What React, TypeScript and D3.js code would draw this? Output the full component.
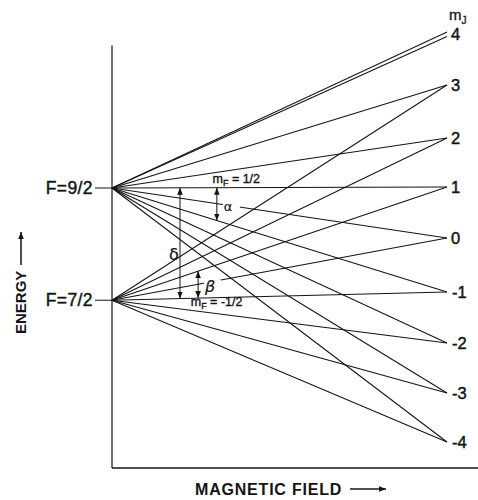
import React, { useEffect, useRef } from "react";
import * as d3 from "d3";

// zero-field hyperfine levels (energy, arbitrary units)
const zeroFieldLabels = ["F=9/2", "F=7/2"];
const zeroFieldEnergy = [0.98, -1.22];

// high-field m_J levels
const mJLabels = ["4", "3", "2", "1", "0", "-1", "-2", "-3", "-4"];
const mJEnergy = [4, 3, 1.96, 1, 0, -1.06, -2.06, -3.04, -4];

// F=9/2 sublevels and the energy each one reaches at the right edge
const upperMF = ["9/2", "7/2", "5/2", "3/2", "1/2", "-1/2", "-3/2", "-5/2", "-7/2", "-9/2"];
const upperEnd = [4.04, 3.95, 3, 1.96, 1, 0, -1.06, -2.06, -3.04, -4];

// F=7/2 sublevels
const lowerMF = ["7/2", "5/2", "3/2", "1/2", "-1/2", "-3/2", "-5/2", "-7/2"];
const lowerEnd = [3, 1.96, 1, 0, -1.06, -2.06, -3.04, -4];

// marked transitions: [label, field, from (F, mF), to (F, mF)]
const transitionLabels = ["α", "δ", "β"];
const transitionField = [0.313, 0.203, 0.257];
const transitionFrom = [[0, "1/2"], [0, "1/2"], [1, "-1/2"]];
const transitionTo = [[0, "-3/2"], [1, "-1/2"], [1, "3/2"]];

const BreitRabi = () => {
  const svgRef = useRef(null);

  useEffect(() => {
    const svg = d3.select(svgRef.current);
    svg.selectAll("*").remove();

    const x = d3.scaleLinear().domain([0, 1]).range([112, 447]);
    const y = d3.scaleLinear().domain([-4, 4]).range([442, 34]);
    const ink = "#141414";
    const font = "'Liberation Sans', Arial, sans-serif";

    const levels = [
      ...upperMF.map((mF, i) => ({ F: 0, mF, e0: zeroFieldEnergy[0], e1: upperEnd[i] })),
      ...lowerMF.map((mF, i) => ({ F: 1, mF, e0: zeroFieldEnergy[1], e1: lowerEnd[i] })),
    ];
    const energyAt = (F, mF, b) => {
      const l = levels.find((d) => d.F === F && d.mF === mF);
      return l.e0 + (l.e1 - l.e0) * b;
    };

    svg
      .append("defs")
      .append("marker")
      .attr("id", "head")
      .attr("viewBox", "0 0 10 10")
      .attr("refX", 10)
      .attr("refY", 5)
      .attr("markerWidth", 7)
      .attr("markerHeight", 7)
      .attr("markerUnits", "userSpaceOnUse")
      .attr("orient", "auto-start-reverse")
      .append("path")
      .attr("d", "M0,1 L10,5 L0,9 Z")
      .attr("fill", ink);

    // axes
    svg
      .append("line")
      .attr("x1", x(0))
      .attr("x2", x(0))
      .attr("y1", y(3.78))
      .attr("y2", y(-4.51))
      .attr("stroke", ink)
      .attr("stroke-width", 1.2);
    svg
      .append("line")
      .attr("x1", x(0))
      .attr("x2", x(1.1))
      .attr("y1", y(-4.51))
      .attr("y2", y(-4.51))
      .attr("stroke", ink)
      .attr("stroke-width", 1.4);

    // energy levels
    svg
      .append("g")
      .selectAll("line")
      .data(levels)
      .enter()
      .append("line")
      .attr("x1", x(0))
      .attr("y1", (d) => y(d.e0))
      .attr("x2", x(1))
      .attr("y2", (d) => y(d.e1))
      .attr("stroke", ink)
      .attr("stroke-width", 1.05);

    // a little extra weight on the lettering, like the inked original
    const heavy = (sel, w = 0.45) =>
      sel.attr("stroke", ink).attr("stroke-width", w).attr("fill", ink);

    // zero-field labels
    zeroFieldLabels.forEach((label, i) => {
      svg
        .append("line")
        .attr("x1", x(0) - 17)
        .attr("x2", x(0))
        .attr("y1", y(zeroFieldEnergy[i]))
        .attr("y2", y(zeroFieldEnergy[i]))
        .attr("stroke", ink);
      heavy(
        svg
          .append("text")
          .attr("x", x(0) - 19)
          .attr("y", y(zeroFieldEnergy[i]) + 6)
          .attr("text-anchor", "end")
          .attr("font-size", 17.5)
          .attr("font-family", font)
          .attr("letter-spacing", 0.4)
          .text(label)
      );
    });

    // high-field labels
    heavy(
      svg
        .append("g")
        .selectAll("text")
        .data(mJLabels)
        .enter()
        .append("text")
        .attr("x", (d) => x(1) + (d.startsWith("-") ? 5 : 4))
        .attr("y", (d, i) => y(mJEnergy[i]) + 6)
        .attr("font-size", 16.5)
        .attr("font-family", font)
        .text((d) => d)
    );

    const mJ = heavy(
      svg
        .append("text")
        .attr("x", x(1) + 2)
        .attr("y", 20)
        .attr("font-size", 15)
        .attr("font-family", font),
      0.35
    );
    mJ.append("tspan").text("m");
    mJ.append("tspan").attr("dy", 4).attr("font-size", 10).text("J");

    // m_F labels on the two horizontal-ish levels
    const mFLabel = (tx, ty, value) => {
      const t = heavy(
        svg
          .append("text")
          .attr("x", tx)
          .attr("y", ty)
          .attr("font-size", 12.5)
          .attr("font-family", font),
        0.35
      );
      t.append("tspan").text("m");
      t.append("tspan").attr("dy", 3).attr("font-size", 9).text("F");
      t.append("tspan").attr("dy", -3).text(` = ${value}`);
    };
    mFLabel(x(0.3), y(energyAt(0, "1/2", 0.3)) - 5, "1/2");
    mFLabel(x(0.235), y(energyAt(1, "-1/2", 0.235)) + 8, "-1/2");

    // transition arrows
    transitionLabels.forEach((label, i) => {
      const b = transitionField[i];
      const [fF, fm] = transitionFrom[i];
      const [tF, tm] = transitionTo[i];
      const ya = y(energyAt(fF, fm, b));
      const yb = y(energyAt(tF, tm, b));
      svg
        .append("line")
        .attr("x1", x(b))
        .attr("x2", x(b))
        .attr("y1", ya)
        .attr("y2", yb)
        .attr("stroke", ink)
        .attr("stroke-width", 1)
        .attr("marker-start", "url(#head)")
        .attr("marker-end", "url(#head)");

      const mid = (ya + yb) / 2;
      let lx = x(b) + 7;
      let ly = mid + 2;
      if (label === "δ") {
        lx = x(b) - 11;
        ly = mid + 12;
      }
      if (label !== "δ") {
        svg
          .append("rect")
          .attr("x", lx - 1)
          .attr("y", ly - 7)
          .attr("width", 17)
          .attr("height", 13)
          .attr("fill", "white");
      }
      heavy(
        svg
          .append("text")
          .attr("x", lx)
          .attr("y", ly + 5)
          .attr("font-size", label === "α" ? 13 : 16)
          .attr("font-style", label === "β" ? "italic" : "normal")
          .attr("font-family", "'DejaVu Sans', sans-serif")
          .text(label),
        0.2
      );
    });

    // axis titles
    svg
      .append("text")
      .attr("transform", `translate(26,334) rotate(-90)`)
      .attr("font-size", 15)
      .attr("font-weight", "bold")
      .attr("font-family", font)
      .attr("fill", ink)
      .text("ENERGY");
    svg
      .append("line")
      .attr("x1", 21)
      .attr("x2", 21)
      .attr("y1", 265)
      .attr("y2", 232)
      .attr("stroke", ink)
      .attr("stroke-width", 1.5)
      .attr("marker-end", "url(#head)");

    svg
      .append("text")
      .attr("x", 195)
      .attr("y", 495)
      .attr("font-size", 16)
      .attr("font-weight", "bold")
      .attr("letter-spacing", 0.8)
      .attr("font-family", font)
      .attr("fill", ink)
      .text("MAGNETIC FIELD");
    svg
      .append("line")
      .attr("x1", 350)
      .attr("x2", 386)
      .attr("y1", 489)
      .attr("y2", 489)
      .attr("stroke", ink)
      .attr("stroke-width", 1.5)
      .attr("marker-end", "url(#head)");
  }, []);

  return (
    <svg
      ref={svgRef}
      width={478}
      height={500}
      style={{ position: "absolute", left: 0, top: 0, background: "white" }}
    ></svg>
  );
};

export default function App() {
  return <BreitRabi />;
}
